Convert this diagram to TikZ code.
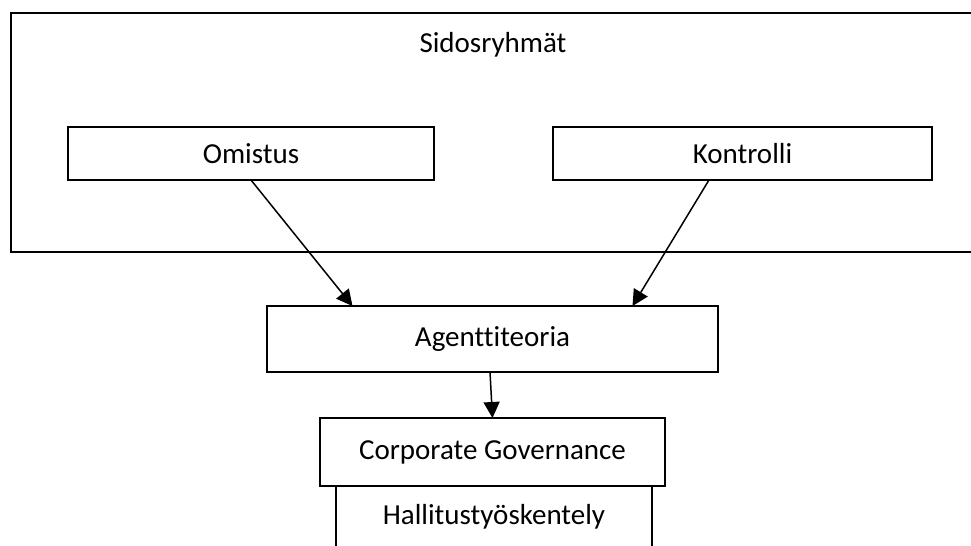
\documentclass[tikz,border=0pt]{standalone}
\usepackage{fontspec}
\setmainfont{Carlito}[Ligatures=NoCommon]
\usepackage{tikz}
\usetikzlibrary{arrows.meta,positioning,calc}

\begin{document}
\begin{tikzpicture}[
  x=0.5pt,y=-0.5pt,
  >={Triangle[length=8pt,width=8pt]},
  box/.style={draw=black,line width=0.75pt,inner sep=0pt,outer sep=0pt,
              font=\fontsize{14.5pt}{17pt}\selectfont,align=center},
  txt/.style={inner sep=0pt,font=\fontsize{14.5pt}{17pt}\selectfont},
  a/.style={black,line width=0.75pt,->}]
\clip (0,0) rectangle (971,546);
% stakeholder frame, runs off the right edge
\node[box,minimum width=494.5pt,minimum height=119.5pt] (sidos) at (505.5,132.5) {};
\node[txt] (sidostxt) at (493,45) {Sidosryhmät};
\node[box,minimum width=183pt,minimum height=26.5pt] (omistus) at (251,153.5) {Omistus};
\node[box,minimum width=189.5pt,minimum height=26.5pt] (kontrolli) at (742.5,153.5) {Kontrolli};
\node[box,minimum width=225.5pt,minimum height=33pt] (agentti) at (492.5,339) {Agenttiteoria};
\node[box,minimum width=172.5pt,minimum height=34pt] (cg) at (492.5,452) {Corporate Governance};
\node[box,minimum width=158pt,minimum height=31pt] (hallitus) at (494,517) {Hallitustyöskentely};
\draw[a] (omistus.south) -- ([xshift=-70pt]agentti.north);
\draw[a] ([xshift=-16.75pt]kontrolli.south) -- ([xshift=70pt]agentti.north);
\draw[a] ([xshift=-1.25pt]agentti.south) -- (cg.north);
\end{tikzpicture}
\end{document}
